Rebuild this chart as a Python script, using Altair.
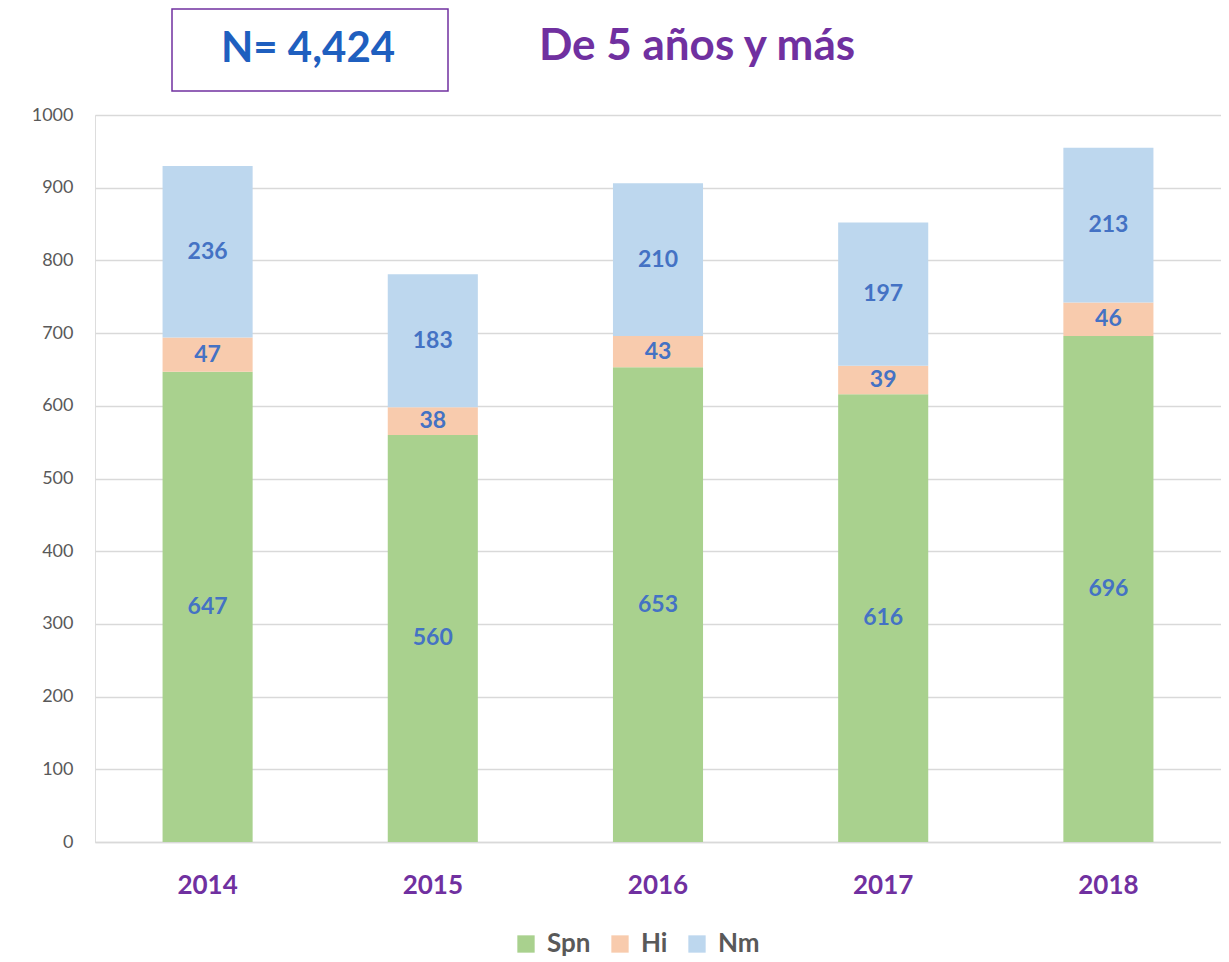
import altair as alt
import pandas as pd

years = ["2014", "2015", "2016", "2017", "2018"]
series = ["Spn", "Hi", "Nm"]
spn = [647, 560, 653, 616, 696]
hi = [47, 38, 43, 39, 46]
nm = [236, 183, 210, 197, 213]
colors = ["#A9D18E", "#F8CBAD", "#BDD7EE"]

rows = []
for i, y in enumerate(years):
    base = 0
    for k, (s, vals) in enumerate(zip(series, [spn, hi, nm])):
        v = vals[i]
        rows.append({"year": y, "serie": s, "value": v, "ord": k,
                     "y0": base, "y1": base + v, "mid": base + v / 2})
        base += v
df = pd.DataFrame(rows)

FONT = "Lato"

xenc = alt.X("year:N", title=None, sort=years,
             scale=alt.Scale(paddingInner=0.6, paddingOuter=0.3),
             axis=alt.Axis(labelAngle=0, labelFont=FONT, labelFontSize=26,
                           labelFontWeight="bold", labelColor="#7030A0",
                           labelPadding=30, ticks=False, domainColor="#D9D9D9",
                           domainWidth=1.5))

bars = alt.Chart(df).mark_bar().encode(
    x=xenc,
    y=alt.Y("y0:Q", title=None,
            scale=alt.Scale(domain=[0, 1000]),
            axis=alt.Axis(values=list(range(0, 1001, 100)), format="d",
                          labelFont=FONT, labelFontSize=18, labelColor="#595959",
                          ticks=False, domain=False, labelPadding=22,
                          gridColor="#D9D9D9", gridWidth=1.5)),
    y2="y1:Q",
    color=alt.Color("serie:N", sort=series,
                    scale=alt.Scale(domain=series, range=colors),
                    legend=alt.Legend(title=None, orient="none", direction="horizontal",
                                      legendX=418, legendY=816, symbolType="square",
                                      symbolSize=300, symbolStrokeWidth=0,
                                      labelFont=FONT, labelFontSize=26,
                                      labelFontWeight="bold", labelColor="#595959",
                                      columnPadding=16, labelOffset=8)),
)

labels = alt.Chart(df).mark_text(font=FONT, fontSize=23, fontWeight="bold",
                                 color="#4472C4").encode(
    x=alt.X("year:N", sort=years),
    y="mid:Q",
    text="value:Q",
)

box = alt.Chart(pd.DataFrame({"a": [1]})).mark_rect(
    fill="white", stroke="#7030A0", strokeWidth=1.5).encode(
    x=alt.value(77), x2=alt.value(353), y=alt.value(-106), y2=alt.value(-24))

ntext = alt.Chart(pd.DataFrame({"t": ["N= 4,424"]})).mark_text(
    font=FONT, fontSize=42, fontWeight="bold", color="#1F5FBF",
    align="center", baseline="middle").encode(
    x=alt.value(213), y=alt.value(-66), text="t:N")

title = alt.Chart(pd.DataFrame({"t": ["De 5 años y más"]})).mark_text(
    font=FONT, fontSize=44, fontWeight="bold", color="#7030A0",
    align="center", baseline="middle").encode(
    x=alt.value(602), y=alt.value(-68), text="t:N")

chart = alt.layer(bars, labels, box, ntext, title).properties(
    width=1126, height=727,
    autosize=alt.AutoSizeParams(type="none"),
    padding={"left": 87, "top": 107, "right": 0, "bottom": 122},
).configure_view(stroke=None).configure(background="white")

chart.save("out.html", embed_options={"renderer": "svg", "actions": False})
